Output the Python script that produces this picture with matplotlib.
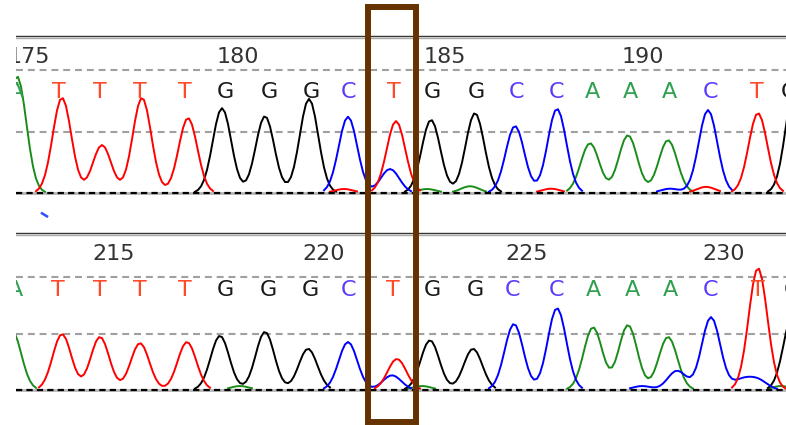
import numpy as np
import matplotlib.pyplot as plt
import matplotlib.transforms as mtransforms
from matplotlib.patches import Rectangle

plt.rcParams['lines.scale_dashes'] = False

# base calls shared by both reads
seq = "ATTTTGGGCTGGCCAAACTG"

# top read: first base number, call positions (scan units) and peaks per channel
top_first = 175
top_calls = [16, 59, 100, 140, 185, 225, 269, 311, 349, 394, 432, 476, 516, 557, 592, 630, 669, 710, 757, 789]
top_A = [(17, 1.9), (427, 0.065), (470, 0.11), (590, 0.81), (628, 0.94), (668, 0.86)]
top_C = [(348, 1.24), (390, 0.39), (515, 1.09), (557, 1.37), (670, 0.07), (708, 1.35)]
top_G = [(222, 1.38), (265, 1.25), (309, 1.53), (431, 1.19), (475, 1.3), (795, 1.75)]
top_T = [(62, 1.55), (102, 0.78), (142, 1.55), (188, 1.22), (344, 0.065), (396, 1.17),
         (551, 0.07), (706, 0.1), (758, 1.3)]

# bottom read
bot_first = 213
bot_calls = [15, 58, 100, 140, 185, 225, 268, 310, 348, 393, 432, 475, 513, 557, 593, 632, 670, 710, 758, 792]
bot_A = [(12, 1.05), (240, 0.07), (422, 0.07), (593, 1.11), (628, 1.15), (668, 0.94), (781, 0.07)]
bot_C = [(348, 0.85), (392, 0.26), (514, 1.17), (557, 1.45), (642, 0.07), (677, 0.34),
         (711, 1.29), (742, 0.17), (758, 0.17)]
bot_G = [(220, 0.96), (265, 1.03), (308, 0.73), (430, 0.88), (473, 0.73), (793, 1.35)]
bot_T = [(62, 0.99), (100, 0.94), (140, 0.83), (187, 0.85), (397, 0.55), (758, 2.16)]

# highlighted position (scan units)
highlight = 392

trace_colors = {'A': '#1a8c1a', 'C': '#0000ff', 'G': '#000000', 'T': '#ff0000'}
letter_colors = {'A': '#30a050', 'C': '#5a3cff', 'G': '#1a1a1a', 'T': '#ff4a2a'}

PEAK_W = 9.3
W = 786
H = 425


def trace(peaks, x):
	y = np.zeros_like(x)
	for p, h in peaks:
		y += h * np.exp(-(x - p) ** 2 / (2 * PEAK_W ** 2))
	y[y < 0.02] = np.nan
	return y


def draw_panel(ax, first, calls, peaks, ylim, letter_y, number_y, line_y):
	ax.set_xlim(16, 786)
	ax.set_ylim(*ylim)
	ax.axis('off')
	#grid lines
	ax.axhline(0, color='#b5b5b5', lw=2.0, zorder=1)
	ax.axhline(0, color='#000000', lw=1.6, dashes=(4.5, 3), zorder=5)
	for yy in (1, 2):
		ax.axhline(yy, color='#a0a0a0', lw=1.5, dashes=(5, 3.5), zorder=1)
	ax.axhline(line_y, color='#333333', lw=1.0, zorder=1)
	ax.axhline(line_y - 0.035, color='#aaaaaa', lw=1.0, zorder=1)
	#traces
	x = np.arange(0, 820, 3.0)
	for base in "AGCT":
		ax.plot(x, trace(peaks[base], x), color=trace_colors[base], lw=1.4, zorder=3)
	#base letters and numbers
	for i, (c, b) in enumerate(zip(calls, seq)):
		ax.text(c, letter_y, b, color=letter_colors[b], ha='center', va='baseline',
				fontsize=16, clip_on=True)
		if (first + i) % 5 == 0:
			ax.text(c - 8, number_y, str(first + i), color='#333333', ha='left',
					va='baseline', fontsize=16, clip_on=True)


fig = plt.figure(figsize=(W / 100, H / 100), dpi=100)

# top panel: pixels 30..222, baseline at 193, 61.5 px per unit
ax_top = fig.add_axes([16 / W, (H - 222) / H, 770 / W, 192 / H])
draw_panel(ax_top, top_first, top_calls, {'A': top_A, 'C': top_C, 'G': top_G, 'T': top_T},
		   (-29 / 61.5, 163 / 61.5), 95 / 61.5, 130 / 61.5, 157 / 61.5)
ax_top.plot([42, 47], [-0.33, -0.38], color='#3050ff', lw=1.8)

# bottom panel: pixels 225..405, baseline at 390, 56.5 px per unit
ax_bot = fig.add_axes([16 / W, (H - 405) / H, 770 / W, 180 / H])
draw_panel(ax_bot, bot_first, bot_calls, {'A': bot_A, 'C': bot_C, 'G': bot_G, 'T': bot_T},
		   (-15 / 56.5, 165 / 56.5), 94 / 56.5, 130 / 56.5, 157 / 56.5)

# brown box round the highlighted base
trans = mtransforms.blended_transform_factory(ax_top.transData, fig.transFigure)
box = Rectangle((highlight - 24, 3 / H), 48, 415 / H, transform=trans, fill=False,
				edgecolor='#663300', lw=4.3, zorder=10, clip_on=False)
fig.patches.append(box)

fig.savefig("out.png", dpi=100)
